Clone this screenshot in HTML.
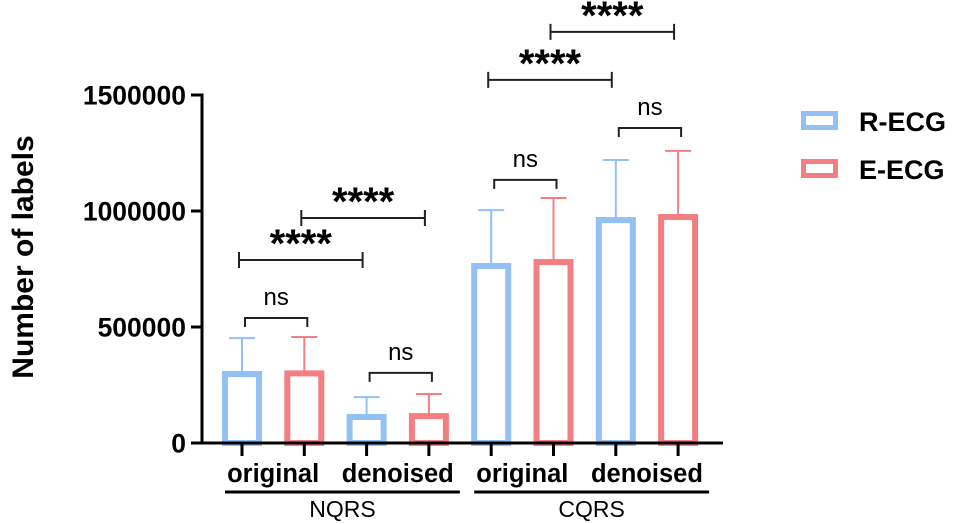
<!DOCTYPE html>
<html><head><meta charset="utf-8"><style>
html,body{margin:0;padding:0;background:#fff;}
svg{display:block;font-family:"Liberation Sans",Arial,sans-serif;}
</style></head><body>
<svg id="chart" width="955" height="524">
<g id="plot"></g>
</svg>
<script>
const categories=["NQRS original R","NQRS original E","NQRS denoised R","NQRS denoised E","CQRS original R","CQRS original E","CQRS denoised R","CQRS denoised E"];
const series=["R-ECG","E-ECG","R-ECG","E-ECG","R-ECG","E-ECG","R-ECG","E-ECG"];
const means=[297000,300000,112000,116000,763000,780000,961000,974000];
const errTops=[452000,457000,198000,211000,1004000,1056000,1220000,1259000];
const yTicks=[0,500000,1000000,1500000];
const yTickLabels=["0","500000","1000000","1500000"];
const subLabels=["original","denoised","original","denoised"];
const groupLabels=["NQRS","CQRS"];
// brackets: [fromIndex,toIndex,value(height),label]
const brackets=[[0,1,539000,"ns"],[2,3,302000,"ns"],[0,2,789000,"****"],[1,3,970000,"****"],[4,5,1134000,"ns"],[6,7,1358000,"ns"],[4,6,1565000,"****"],[5,7,1772000,"****"]];

const NS="http://www.w3.org/2000/svg";
const g=document.getElementById('plot');
const colors={"R-ECG":"#93c0f5","E-ECG":"#f47f82"};
const x0=202,xEnd=723,y0=443,pxPer=116/500000;
function y(v){return y0-v*pxPer;}
function xc(i){return 242+i*62.3;}
function el(t,a,txt){const e=document.createElementNS(NS,t);for(const k in a)e.setAttribute(k,a[k]);if(txt!==undefined)e.textContent=txt;g.appendChild(e);return e;}

categories.forEach((c,i)=>{
  const col=colors[series[i]];
  const e1=el('line',{x1:xc(i),x2:xc(i),y1:y(means[i]),y2:y(errTops[i]),stroke:col,'stroke-width':2});
  
  
  const e2=el('line',{x1:xc(i)-13,x2:xc(i)+13,y1:y(errTops[i]),y2:y(errTops[i]),stroke:col,'stroke-width':2});
  
  
  const r=el('rect',{x:xc(i)-17,y:y(means[i]),width:34,height:y0-y(means[i]),fill:'none',stroke:col,'stroke-width':6});
  
  
});
const ax=el('line',{x1:x0,x2:x0,y1:y(1500000)-1.5,y2:y0+1.5,stroke:'#000','stroke-width':3});


const xa=el('line',{x1:x0-1.5,x2:xEnd,y1:y0,y2:y0,stroke:'#000','stroke-width':3});


yTicks.forEach((v,i)=>{
  const t=el('line',{x1:x0-11,x2:x0,y1:y(v),y2:y(v),stroke:'#000','stroke-width':3});
  
  
  const l=el('text',{x:186,y:y(v)+9.5,'text-anchor':'end','font-size':26.5,'font-weight':'bold'},yTickLabels[i]);
  
  
});
categories.forEach((c,i)=>{
  const t=el('line',{x1:xc(i),x2:xc(i),y1:y0,y2:y0+13,stroke:'#000','stroke-width':3});
  
  
});
subLabels.forEach((s,k)=>{
  const cx=(xc(2*k)+xc(2*k+1))/2;
  const t=el('text',{x:cx,y:482,'text-anchor':'middle','font-size':25.5,'font-weight':'bold'},s);
  
  
});
groupLabels.forEach((s,k)=>{
  const a=xc(4*k)-17,b=xc(4*k+3)+31;
  const ln=el('line',{x1:a,x2:b,y1:492,y2:492,stroke:'#000','stroke-width':3});
  
  
  const t=el('text',{x:(a+b)/2,y:517,'text-anchor':'middle','font-size':23},s);
  
  
});
brackets.forEach(b=>{
  const isNs=b[3]=="ns";
  const a=xc(b[0])+(isNs?3:-3),c=xc(b[1])+(isNs?3:-4),yy=y(b[2]);
  const d=isNs?`M${a} ${yy+9}V${yy}H${c}V${yy+9}`:`M${a} ${yy-8}V${yy+8}M${a} ${yy}H${c}M${c} ${yy-8}V${yy+8}`;
  const p=el('path',{d:d,fill:'none',stroke:'#222','stroke-width':2});
  
  
  const t=el('text',{x:(a+c)/2,y:isNs?yy-13:yy-3,'text-anchor':'middle','font-size':isNs?24:40,'font-weight':isNs?'normal':'bold'},b[3]);
  
  
});
const yt=el('text',{x:0,y:0,transform:'translate(33,257) rotate(-90)','text-anchor':'middle','font-size':30,'font-weight':'bold'},'Number of labels');


[["R-ECG",111],["E-ECG",159]].forEach(([n,yy])=>{
  const r=el('rect',{x:803.5,y:yy+2.5,width:32,height:14,fill:'none',stroke:colors[n],'stroke-width':5});
  
  
  const t=el('text',{x:859,y:yy+20,'font-size':27,'font-weight':'bold'},n);
  
  
});
</script>
</body></html>
